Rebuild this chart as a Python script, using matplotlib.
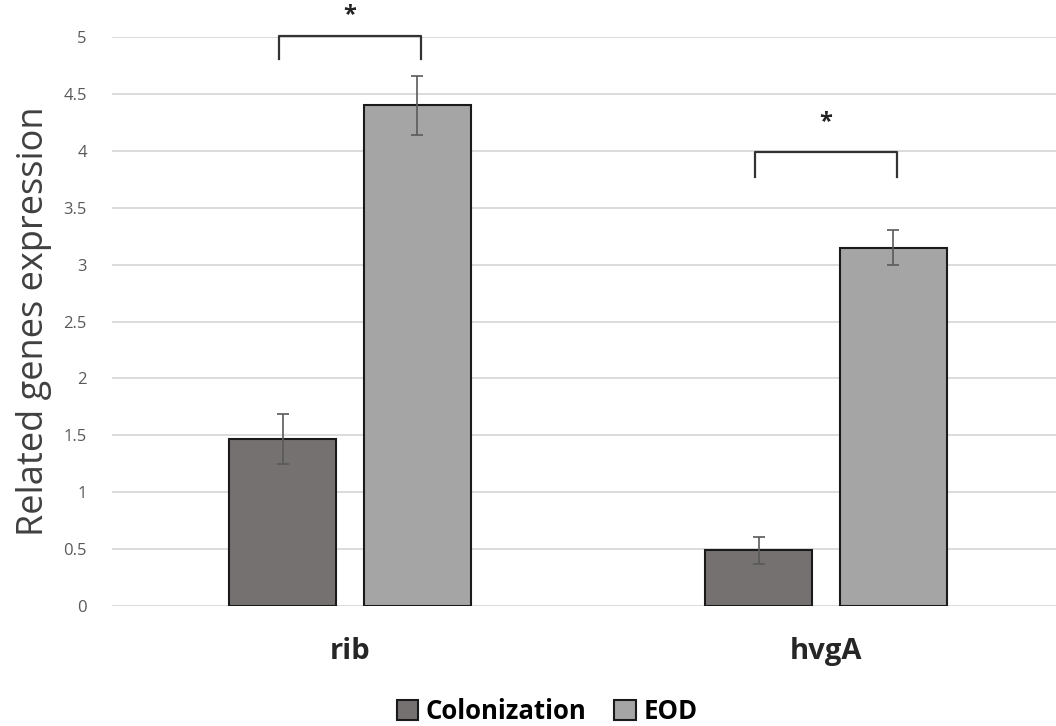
import matplotlib.pyplot as plt
import numpy as np

genes = ['rib', 'hvgA']
colonization = [1.47, 0.49]
colonization_err = [0.22, 0.12]
eod = [4.40, 3.15]
eod_err = [0.26, 0.155]
bracket_top = [5.01, 3.99]
bracket_leg = [4.81, 3.77]
star_y = [5.19, 4.25]

plt.rcParams['font.family'] = ['Open Sans', 'DejaVu Sans']

fig = plt.figure(figsize=(10.56, 7.26), dpi=100)
ax = fig.add_axes([0.106, 0.1653, 0.894, 0.7837])

x = np.arange(len(genes))
w = 0.225
off = 0.141
err_kw = dict(ecolor='#5a5a5a', elinewidth=1.2, capsize=4, capthick=1.2)
ax.bar(x - off, colonization, w, yerr=colonization_err, color='#767171',
       edgecolor='#1a1a1a', linewidth=1.5, label='Colonization', error_kw=err_kw, zorder=3)
ax.bar(x + off, eod, w, yerr=eod_err, color='#a5a5a5',
       edgecolor='#1a1a1a', linewidth=1.5, label='EOD', error_kw=err_kw, zorder=3)

# significance brackets
for xi, top, leg, sy in zip(x, bracket_top, bracket_leg, star_y):
    ax.plot([xi - 0.15, xi - 0.15, xi + 0.15, xi + 0.15], [leg, top, top, leg],
            color='#333333', lw=1.6, clip_on=False, zorder=4)
    ax.text(xi, sy, '*', ha='center', va='center', fontsize=17,
            fontweight='bold', color='#222222', clip_on=False)

ax.set_xlim(-0.5, 1.483)
ax.set_ylim(0, 5)
ax.set_yticks(np.arange(0, 5.01, 0.5))
ax.set_yticklabels(['0', '0.5', '1', '1.5', '2', '2.5', '3', '3.5', '4', '4.5', '5'])
ax.set_xticks(x)
ax.set_xticklabels(genes, fontsize=21, fontweight='bold', color='#262626')
ax.tick_params(axis='y', length=0, labelsize=12, labelcolor='#595959', pad=18)
ax.tick_params(axis='x', length=0, pad=22)
ax.grid(axis='y', color='#d9d9d9', linewidth=1.3, zorder=0)
for s in ax.spines.values():
    s.set_visible(False)
ax.set_ylabel('Related genes expression', fontsize=26, color='#404040', labelpad=8)

fig.legend(loc='lower center', bbox_to_anchor=(0.518, -0.03), ncol=2, frameon=False,
           prop={'size': 18.5, 'weight': 'bold'}, handlelength=0.82, handleheight=0.82,
           handletextpad=0.3, columnspacing=1.1)

fig.savefig('out.png', dpi=100)
